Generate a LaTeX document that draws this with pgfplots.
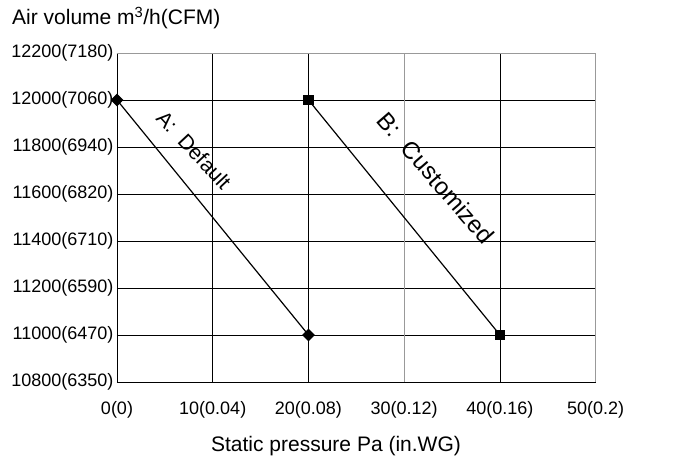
\documentclass[border=0pt]{standalone}
\usepackage{fontspec}
\setmainfont{Liberation Sans}
\usepackage{pgfplots}
\pgfplotsset{compat=1.18}
\begin{document}
\begin{tikzpicture}
\begin{axis}[
  at={(117pt,-382pt)}, anchor=south west,
  scale only axis, width=478.7pt, height=329pt,
  xmin=0, xmax=50, ymin=10800, ymax=12200,
  scaled y ticks=false, scaled x ticks=false,
  xtick={0,10,20,30,40,50},
  xticklabels={0(0),10(0.04),20(0.08),30(0.12),40(0.16),50(0.2)},
  ytick={10800,11000,11200,11400,11600,11800,12000,12200},
  yticklabels={10800(6350),11000(6470),11200(6590),11400(6710),11600(6820),11800(6940),12000(7060),12200(7180)},
  tick style={draw=none},
  grid=major, grid style={black, line width=0.9pt},
  axis line style={black, line width=0.9pt},
  ticklabel style={font=\fontsize{18}{20}\selectfont},
  xticklabel style={yshift=-16pt},
  clip=false,
]
\draw[gray!80, line width=0.9pt] (axis cs:30,10800) -- (axis cs:30,12200);
\draw[gray!80, line width=0.9pt] (axis cs:0,12200) -- (axis cs:50,12200);
\draw[gray!80, line width=0.9pt] (axis cs:50,10800) -- (axis cs:50,12200);
\addplot[black, line width=1.2pt, mark=square*, mark size=3.9pt, mark options={rotate=45}] coordinates {(0,12000) (20,11000)};
\addplot[black, line width=1.2pt, mark=square*, mark size=4.8pt] coordinates {(20,12000) (40,11000)};
\node[rotate=-47, font=\fontsize{21}{23}\selectfont] at (axis cs:8.04,11787) {A:\ \ Default};
\node[rotate=-49, font=\fontsize{24}{26}\selectfont] at (axis cs:33.3,11668) {B:\hspace{0.6em}Customized};
\end{axis}
\node[anchor=base west, font=\fontsize{21}{24}\selectfont, inner sep=0pt] at (12pt,-25pt) {Air volume m\textsuperscript{3}/h(CFM)};
\node[anchor=base, font=\fontsize{21}{24}\selectfont, inner sep=0pt] at (336pt,-451.7pt) {Static pressure Pa (in.WG)};
\pgfresetboundingbox
\useasboundingbox (0pt,0pt) rectangle (675pt,-460pt);
\end{tikzpicture}
\end{document}
